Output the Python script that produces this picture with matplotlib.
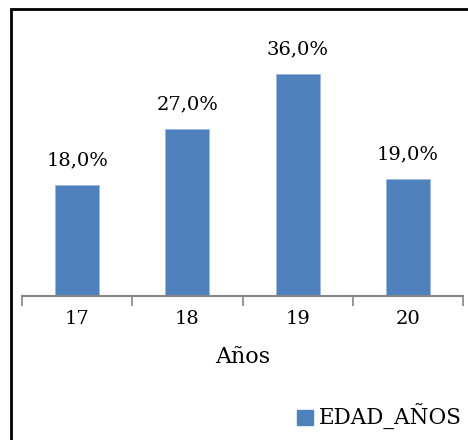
import matplotlib.pyplot as plt
import matplotlib.patches as mpatches

categories = ["17", "18", "19", "20"]
values = [18.0, 27.0, 36.0, 19.0]
labels = ["18,0%", "27,0%", "36,0%", "19,0%"]
series_name = "EDAD_AÑOS"
xlabel = "Años"

plt.rcParams['font.family'] = ['DejaVu Serif']

fig = plt.figure(figsize=(4.68, 4.40), dpi=100)
W, H = 468.0, 440.0
ax = fig.add_axes([22 / W, (H - 296) / H, (463 - 22) / W, (296 - 49) / H])

x = range(len(categories))
bars = ax.bar(x, values, width=0.4, color="#4F81BD", edgecolor="#9DB9DD", linewidth=0.6, label=series_name)
for b, lab in zip(bars, labels):
    ax.text(b.get_x() + b.get_width() / 2, b.get_height() + 2.5, lab,
            ha="center", va="bottom", fontsize=14, color="black")

ax.set_xlim(-0.5, len(categories) - 0.5)
ax.set_ylim(0, 40)
for s in ["top", "right", "left"]:
    ax.spines[s].set_visible(False)
ax.spines["bottom"].set_color("#868686")
ax.spines["bottom"].set_linewidth(1.5)
ax.set_yticks([])
ax.set_xticks([i - 0.5 for i in range(len(categories) + 1)], minor=False)
ax.set_xticklabels([])
ax.tick_params(axis="x", which="major", length=7, width=1.2, color="#868686", direction="out")
ax.set_xticks(list(x), minor=True)
ax.set_xticklabels(categories, minor=True, fontsize=14)
ax.tick_params(axis="x", which="minor", length=0, pad=10)
ax.set_xlabel(xlabel, fontsize=16, labelpad=13)

leg = fig.legend(handles=[mpatches.Patch(color="#4F81BD", label=series_name)],
                 loc="lower right", bbox_to_anchor=(462 / W, 10 / H), frameon=False,
                 fontsize=15.5, handlelength=0.7, handleheight=0.7, handletextpad=0.3,
                 borderaxespad=0, borderpad=0)

# chart frame (extends past the image on the right and bottom)
fig.patches.append(mpatches.Rectangle((10.5 / W, -0.1), 1.2, 1.1 - 9.5 / H,
                                      transform=fig.transFigure, fill=False,
                                      edgecolor="black", linewidth=2))

fig.savefig("out.png", dpi=100)
